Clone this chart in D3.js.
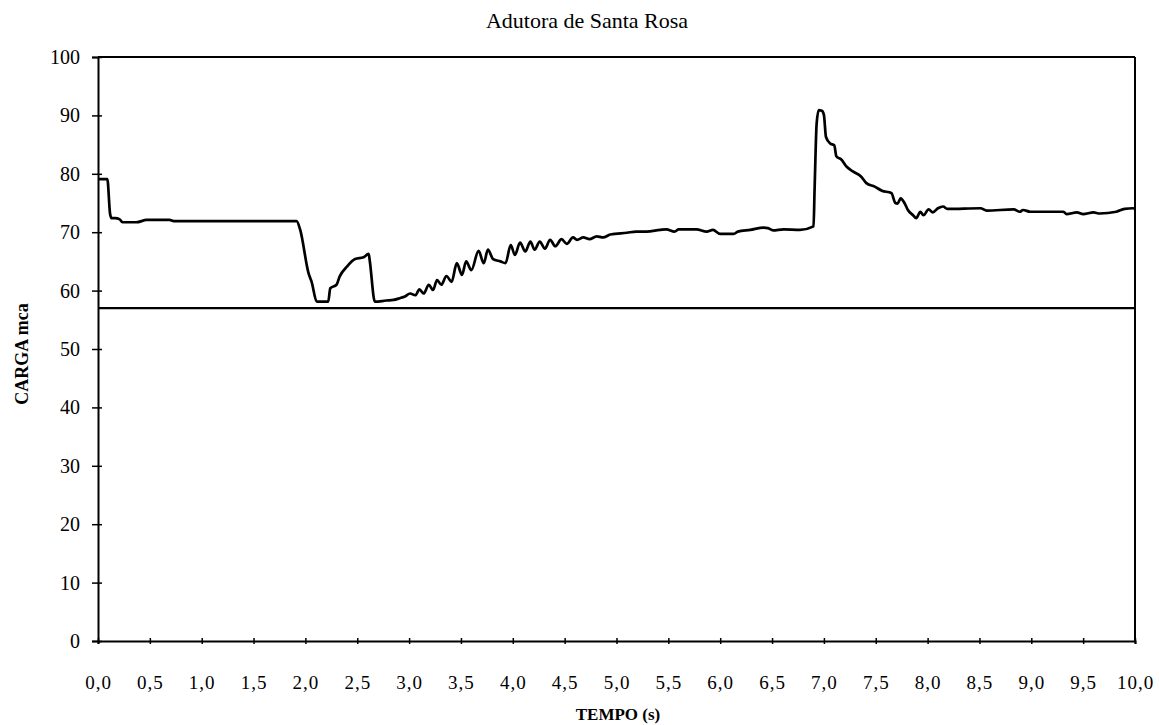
<!DOCTYPE html>
<html>
<head>
<meta charset="utf-8">
<script src="https://cdn.jsdelivr.net/npm/d3@7"></script>
<style>
  body { margin: 0; background: #fff; }
  svg text { font-family: "Liberation Serif", "DejaVu Serif", serif; fill: #000; }
</style>
</head>
<body>
<svg id="chart" width="1159" height="725"></svg>
<script>
// valores (tempo em s, carga em mca)
const tempo = [0, 0.09, 0.116, 0.13, 0.164, 0.21, 0.235, 0.37, 0.47, 0.69, 0.73, 1.915, 1.95, 2.03, 2.06, 2.11, 2.22, 2.24, 2.30, 2.33, 2.40, 2.48, 2.56, 2.61, 2.62, 2.67, 2.78, 2.85, 2.91, 2.96,
  3.01, 3.06, 3.10, 3.14, 3.19, 3.23, 3.27, 3.31, 3.36, 3.41, 3.46, 3.51, 3.55, 3.60, 3.67, 3.72, 3.76, 3.81, 3.88, 3.93, 3.98,
  4.02, 4.07, 4.12, 4.17, 4.21, 4.26, 4.31, 4.36, 4.41, 4.47, 4.52, 4.58, 4.62, 4.68, 4.74, 4.81, 4.87, 4.94,
  5.10, 5.19, 5.29, 5.42, 5.48, 5.56, 5.60, 5.77, 5.87, 5.93, 6.00, 6.13, 6.17, 6.29, 6.42, 6.46, 6.51, 6.61, 6.77, 6.90,
  6.91, 6.93, 6.95, 6.98, 7.00, 7.02, 7.06, 7.10, 7.12, 7.17, 7.22, 7.28, 7.36, 7.41, 7.49, 7.56, 7.65, 7.69, 7.71, 7.74, 7.78,
  7.81, 7.86, 7.89, 7.93, 7.96, 8.01, 8.05, 8.10, 8.15, 8.19, 8.51, 8.57, 8.83, 8.89, 8.92, 8.99, 9.31, 9.34, 9.44, 9.50,
  9.60, 9.66, 9.82, 9.90, 9.98, 10.0];
const carga = [79.1, 79.1, 73.2, 72.4, 72.4, 72.2, 71.7, 71.7, 72.1, 72.1, 71.9, 71.9, 70.4, 63.0, 61.5, 58.1, 58.1, 60.4, 61.0, 62.4, 64.1, 65.4, 65.7, 66.3, 65.2, 58.1, 58.3, 58.4, 58.7, 59.0,
  59.5, 59.2, 60.2, 59.5, 61.0, 60.1, 61.8, 61.0, 62.5, 61.5, 64.7, 62.7, 65.0, 63.5, 66.8, 64.7, 67.0, 65.4, 65.0, 64.7, 67.8,
  66.1, 68.2, 66.7, 68.4, 67.0, 68.4, 67.2, 68.7, 67.6, 68.8, 68.0, 69.1, 68.7, 69.1, 68.8, 69.3, 69.1, 69.6,
  69.9, 70.1, 70.1, 70.4, 70.5, 70.1, 70.5, 70.5, 70.1, 70.4, 69.7, 69.7, 70.1, 70.4, 70.8, 70.7, 70.3, 70.5, 70.4, 71.0,
  77.2, 88.6, 90.9, 90.8, 90.1, 86.3, 85.2, 84.9, 83.0, 82.4, 81.2, 80.4, 79.5, 78.4, 77.8, 77.1, 76.7, 75.0, 74.9, 75.8, 74.9,
  73.8, 72.9, 72.4, 73.5, 72.9, 73.9, 73.4, 74.1, 74.4, 74.0, 74.1, 73.7, 73.9, 73.5, 73.8, 73.5, 73.5, 73.1, 73.4, 73.1,
  73.4, 73.2, 73.5, 74.0, 74.1, 74.0];

// linha horizontal de carga minima
const cargaMinima = 57;

const xTicks = [0, 0.5, 1, 1.5, 2, 2.5, 3, 3.5, 4, 4.5, 5, 5.5, 6, 6.5, 7, 7.5, 8, 8.5, 9, 9.5, 10];
const xTickLabels = ["0,0", "0,5", "1,0", "1,5", "2,0", "2,5", "3,0", "3,5", "4,0", "4,5", "5,0", "5,5", "6,0", "6,5", "7,0", "7,5", "8,0", "8,5", "9,0", "9,5", "10,0"];
const yTicks = [0, 10, 20, 30, 40, 50, 60, 70, 80, 90, 100];

const margem = { esq: 98, dir: 1135, topo: 57, base: 641 };

const svg = d3.select("#chart");
const x = d3.scaleLinear().domain([0, 10]).range([margem.esq, margem.dir]);
const y = d3.scaleLinear().domain([0, 100]).range([margem.base, margem.topo]);

// moldura (topo e direita)
svg.append("line").attr("x1", margem.esq).attr("x2", margem.dir).attr("y1", margem.topo).attr("y2", margem.topo)
  .attr("stroke", "#000").attr("stroke-width", 2);
svg.append("line").attr("x1", margem.dir).attr("x2", margem.dir).attr("y1", margem.topo).attr("y2", margem.base)
  .attr("stroke", "#000").attr("stroke-width", 2);

// eixo y
const yAxis = svg.append("g").attr("transform", `translate(${margem.esq},0)`)
  .call(d3.axisLeft(y).tickValues(yTicks).tickSize(6).tickPadding(12));
svg.append("g").attr("transform", `translate(${margem.esq},0)`)
  .call(d3.axisRight(y).tickValues(yTicks).tickSize(4).tickFormat(""))
  .call(g => g.select(".domain").remove());
yAxis.selectAll("text").attr("font-size", 20).attr("font-family", "Liberation Serif");

// eixo x
const xAxis = svg.append("g").attr("transform", `translate(0,${margem.base})`)
  .call(d3.axisBottom(x).tickValues(xTicks).tickSize(3).tickPadding(32)
    .tickFormat((d, i) => xTickLabels[i]));
svg.append("g").attr("transform", `translate(0,${margem.base})`)
  .call(d3.axisTop(x).tickValues(xTicks).tickSize(3).tickFormat(""))
  .call(g => g.select(".domain").remove());
xAxis.selectAll("text").attr("font-size", 19).attr("letter-spacing", 1).attr("font-family", "Liberation Serif");

svg.selectAll(".domain").attr("stroke-width", 2).attr("stroke", "#000");
svg.selectAll(".tick line").attr("stroke", "#000").attr("stroke-width", 1.5);

// carga minima
svg.append("line")
  .attr("x1", x(0)).attr("x2", x(10))
  .attr("y1", y(cargaMinima)).attr("y2", y(cargaMinima))
  .attr("stroke", "#000").attr("stroke-width", 2.2);

// curva de carga
const pontos = tempo.map((t, i) => [t, carga[i]]);
svg.append("path")
  .datum(pontos)
  .attr("fill", "none")
  .attr("stroke", "#000")
  .attr("stroke-width", 2.7)
  .attr("stroke-linejoin", "round")
  .attr("d", d3.line().curve(d3.curveMonotoneX).x(d => x(d[0])).y(d => y(d[1])));

// textos
svg.append("text").attr("x", 587).attr("y", 28).attr("text-anchor", "middle")
  .attr("font-size", 22).text("Adutora de Santa Rosa");
svg.append("text").attr("x", 618).attr("y", 720).attr("text-anchor", "middle")
  .attr("font-size", 17).attr("font-weight", "bold").text("TEMPO (s)");
svg.append("text").attr("transform", "translate(28,354) rotate(-90)")
  .attr("text-anchor", "middle").attr("font-size", 18).attr("font-weight", "bold")
  .text("CARGA mca");
</script>
</body>
</html>
